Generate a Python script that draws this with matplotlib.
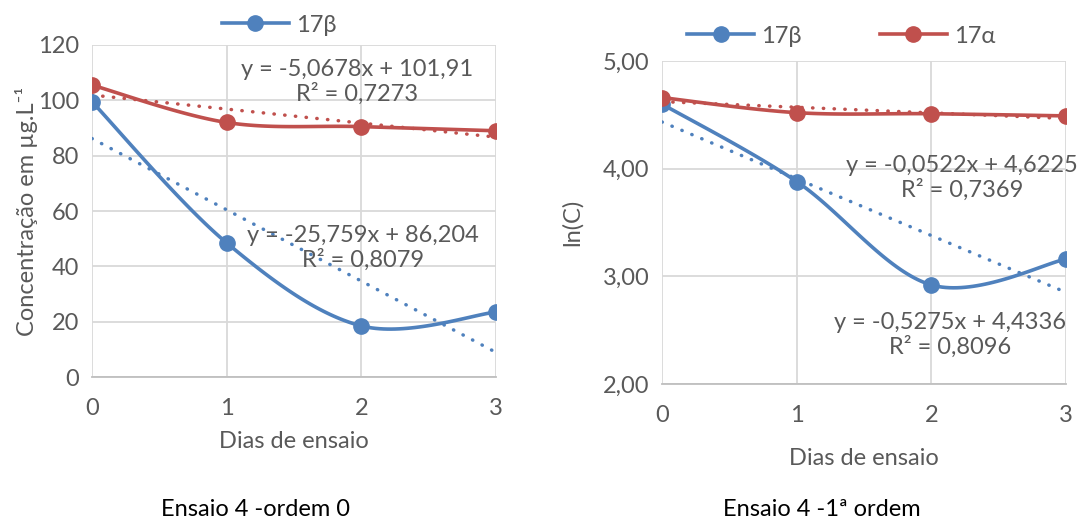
import numpy as np
import matplotlib.pyplot as plt

plt.rcParams['font.family'] = ['Lato', 'DejaVu Sans']

dias = [0, 1, 2, 3]

# concentrações (µg/L)
conc_beta = [99.5, 48.5, 18.5, 23.5]
conc_alfa = [105.5, 92.0, 90.5, 89.0]

# ln(C)
ln_beta = [4.60, 3.88, 2.92, 3.16]
ln_alfa = [4.66, 4.52, 4.51, 4.49]

# linhas de tendência (inclinação, intercepto, R²)
tend_conc_beta = (-25.759, 86.204, 0.8079)
tend_conc_alfa = (-5.0678, 101.91, 0.7273)
tend_ln_beta = (-0.5275, 4.4336, 0.8096)
tend_ln_alfa = (-0.0522, 4.6225, 0.7369)

AZUL = '#4F81BD'
VERMELHO = '#C0504D'
CINZA = '#595959'
GRADE = '#D9D9D9'
FS = 17


def suavizar(x, y, n=40):
    # curva suavizada tipo Excel (Bezier com tangentes de Catmull-Rom)
    p = np.column_stack([x, y]).astype(float)
    p_ext = np.vstack([p[0], p, p[-1]])
    pts = []
    for i in range(len(p) - 1):
        p0, p1, p2, p3 = p_ext[i], p_ext[i + 1], p_ext[i + 2], p_ext[i + 3]
        c1 = p1 + (p2 - p0) / 6
        c2 = p2 - (p3 - p1) / 6
        t = np.linspace(0, 1, n)[:, None]
        seg = ((1 - t) ** 3) * p1 + 3 * ((1 - t) ** 2) * t * c1 + 3 * (1 - t) * t ** 2 * c2 + t ** 3 * p2
        pts.append(seg)
    pts = np.vstack(pts)
    return pts[:, 0], pts[:, 1]


def fmt(v, casas):
    return f'{v:.{casas}f}'.replace('.', ',')


def eq_texto(tend, casas_a, casas_b):
    a, b, r2 = tend
    sinal = '+' if b >= 0 else '-'
    return f'y = {fmt(a, casas_a)}x {sinal} {fmt(abs(b), casas_b)}\nR² = {fmt(r2, 4)}'


def serie(ax, y, cor, rotulo):
    xs, ys = suavizar(dias, y)
    ax.plot(xs, ys, color=cor, lw=2.6, zorder=3)
    ax.plot(dias, y, 'o', color=cor, ms=11, zorder=4)
    ax.plot([], [], '-o', color=cor, lw=2.6, ms=11, label=rotulo)


def tendencia(ax, tend, cor):
    a, b, _ = tend
    xs = np.array([0, 3])
    ax.plot(xs, a * xs + b, color=cor, lw=2.5, ls=(0, (0.1, 3.0)),
            dash_capstyle='round', zorder=2)


def estilo(ax, ymin, ymax, passo, pad):
    ax.set_xlim(0, 3)
    ax.set_ylim(ymin, ymax)
    ax.set_xticks(dias)
    ax.set_yticks(np.arange(ymin, ymax + passo / 2, passo))
    ax.grid(True, color=GRADE, lw=1.3)
    ax.set_axisbelow(True)
    for s in ['top', 'right', 'left']:
        ax.spines[s].set_visible(False)
    ax.spines['bottom'].set_color('#BFBFBF')
    ax.spines['bottom'].set_linewidth(1.3)
    ax.tick_params(length=0, labelsize=FS, labelcolor=CINZA)
    ax.tick_params(axis='x', pad=pad)
    ax.tick_params(axis='y', pad=9)


fig = plt.figure(figsize=(10.91, 5.23), dpi=100)

# ---- ordem 0 ----
ax1 = fig.add_axes([0.0843, 0.279, 0.3703, 0.635])
tendencia(ax1, tend_conc_beta, AZUL)
tendencia(ax1, tend_conc_alfa, VERMELHO)
serie(ax1, conc_beta, AZUL, '17β')
serie(ax1, conc_alfa, VERMELHO, '_17α')
estilo(ax1, 0, 120, 20, 15)
ax1.set_yticklabels([str(int(v)) for v in ax1.get_yticks()])
ax1.set_xlabel('Dias de ensaio', fontsize=FS, color=CINZA, labelpad=9)
ax1.set_ylabel('Concentração em µg.L⁻¹', fontsize=FS, color=CINZA, labelpad=0)
ax1.text(1.97, 106.5, eq_texto(tend_conc_alfa, 4, 2), fontsize=FS, color=CINZA,
         ha='center', va='center', linespacing=1.15)
ax1.text(2.01, 46.8, eq_texto(tend_conc_beta, 3, 3), fontsize=FS, color=CINZA,
         ha='center', va='center', linespacing=1.15)
ax1.legend(handles=ax1.get_legend_handles_labels()[0][:1], loc='center',
           bbox_to_anchor=(0.2557, 0.952), bbox_transform=fig.transFigure,
           frameon=False, fontsize=FS, labelcolor=CINZA, handlelength=2.85,
           handletextpad=0.3)
fig.text(0.234, 0.025, 'Ensaio 4 -ordem 0', fontsize=FS, color='black',
         ha='center', va='center')

# ---- 1ª ordem ----
ax2 = fig.add_axes([0.6068, 0.2658, 0.3703, 0.6176])
tendencia(ax2, tend_ln_beta, AZUL)
tendencia(ax2, tend_ln_alfa, VERMELHO)
serie(ax2, ln_beta, AZUL, '17β')
serie(ax2, ln_alfa, VERMELHO, '17α')
estilo(ax2, 2, 5, 1, 15)
ax2.set_yticklabels([fmt(v, 2) for v in ax2.get_yticks()])
ax2.set_xlabel('Dias de ensaio', fontsize=FS, color=CINZA, labelpad=16)
ax2.set_ylabel('ln(C)', fontsize=FS, color=CINZA, labelpad=14)
ax2.text(2.23, 3.91, eq_texto(tend_ln_alfa, 4, 4), fontsize=FS, color=CINZA,
         ha='center', va='center', linespacing=1.15)
ax2.text(2.14, 2.46, eq_texto(tend_ln_beta, 4, 4), fontsize=FS, color=CINZA,
         ha='center', va='center', linespacing=1.15)
ax2.legend(loc='center', bbox_to_anchor=(0.771, 0.931), bbox_transform=fig.transFigure,
           ncol=2, frameon=False, fontsize=FS, labelcolor=CINZA, handlelength=2.85,
           handletextpad=0.3, columnspacing=3.3)
fig.text(0.753, 0.025, 'Ensaio 4 -1ª ordem', fontsize=FS, color='black',
         ha='center', va='center')

fig.savefig('out.png', dpi=100)
